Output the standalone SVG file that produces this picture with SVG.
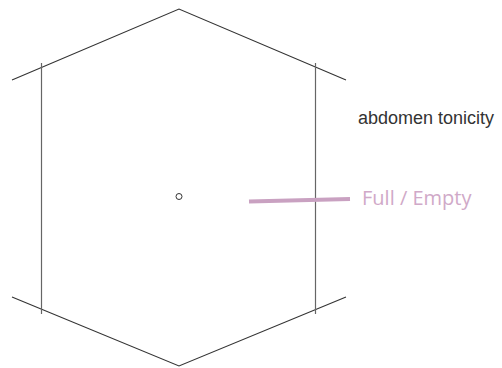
<svg xmlns="http://www.w3.org/2000/svg" width="502" height="368" viewBox="0 0 502 368">
<style>
.edge{fill:none;stroke:#333;stroke-width:1.1}
.vert{fill:none;stroke:#666;stroke-width:1.2}
.lbl{font-family:"Liberation Sans",Arial,sans-serif;font-size:18px;fill:#333}
.pink{font-family:"Open Sans","Noto Sans",sans-serif;font-size:20px;fill:#d0a9c8}
</style>
<rect width="502" height="368" fill="#fff"/>
<g id="hexagon">
<polyline class="edge" points="12,80 179,9 346,80"/>
<polyline class="edge" points="12,297 179,366 346,297"/>
<line class="vert" x1="41.5" y1="63" x2="41.5" y2="314"/>
<line class="vert" x1="315.5" y1="63" x2="315.5" y2="314"/>
</g>
<g id="center">
<circle cx="179" cy="196.5" r="3" fill="none" stroke="#333" stroke-width="1"/>
</g>
<g id="connectors">
<line x1="249" y1="201.5" x2="350" y2="199" stroke="#c9a1c1" stroke-width="4"/>
</g>
<g id="label-tonicity">
<text class="lbl" x="358" y="124">abdomen tonicity</text>
</g>
<g id="label-full-empty">
<text class="pink" x="362" y="205">Full / Empty</text>
</g>
</svg>
